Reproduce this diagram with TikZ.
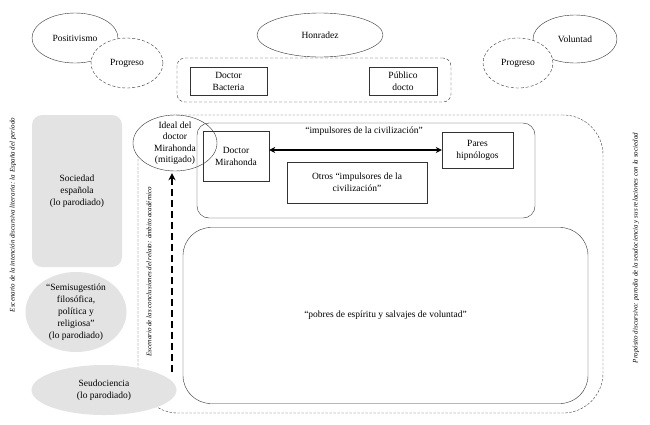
\documentclass[tikz,border=0pt]{standalone}
\usepackage{fontspec}
\setmainfont{Liberation Serif}
\usetikzlibrary{shapes.geometric,arrows.meta}
\begin{document}
\begin{tikzpicture}[x=1pt,y=-1pt, font=\fontsize{9.5}{12}\selectfont,
 ell/.style={ellipse, draw=black!80, inner sep=0pt, align=center},
 dell/.style={ell, dash pattern=on 3pt off 2pt, fill=white},
 bx/.style={rectangle, draw=black!80, inner sep=0pt, align=center},
 grayfill/.style={fill=black!11, draw=none, inner sep=0pt, align=center},
 side/.style={font=\fontsize{7}{8}\selectfont\itshape, rotate=90, inner sep=0pt},
 txt/.style={align=center, inner sep=0pt},
 ]
\useasboundingbox[fill=white] (0,0) rectangle (650,424);

% top ellipses
\node[ell, minimum width=86, minimum height=50] (pos) at (75,38) {Positivismo};
\node[dell, minimum width=72, minimum height=50] (prog1) at (127,63) {Progreso};
\node[ell, minimum width=126, minimum height=44] (hon) at (320,35) {Honradez};
\node[draw=black!80, dash pattern=on 3pt off 2pt, rounded corners=8, minimum width=274, minimum height=44, inner sep=0pt] (grp) at (314,80) {};
\node[bx, minimum width=77, minimum height=28] (bact) at (228.5,81) {Doctor\\Bacteria};
\node[bx, minimum width=68, minimum height=28] (pub) at (403,81) {Público\\docto};
\node[ell, minimum width=84, minimum height=48] (vol) at (575,39) {Voluntad};
\node[dell, minimum width=70, minimum height=50] (prog2) at (518,63) {Progreso};

% outer dashed region
\node[draw=black!75, dash pattern=on 2.5pt off 1.5pt, rounded corners=40, minimum width=465, minimum height=298, inner sep=0pt] (outer) at (370.5,264) {};

% grey shapes
\node[grayfill, rounded corners=10, minimum width=90, minimum height=152] (soc) at (77,191) {};
\node[txt] at (soc) {Sociedad\\española\\(lo parodiado)};
\node[grayfill, ellipse, minimum width=101, minimum height=80] (semi) at (76,312) {};
\node[txt] at (semi) {“Semisugestión\\filosófica,\\política y\\religiosa”\\(lo parodiado)};
\node[grayfill, ellipse, minimum width=145, minimum height=50] (seu) at (104,390) {};
\node[txt] at (seu) {Seudociencia\\(lo parodiado)};

% ideal
\node[ell, fill=white, minimum width=84, minimum height=56] (ideal) at (175,143) {};
\node[txt, font=\fontsize{9.5}{11.5}\selectfont] at (ideal) {Ideal del\\doctor\\Mirahonda\\(mitigado)};

% impulsores
\node[draw=black!80, rounded corners=12, minimum width=338, minimum height=95, inner sep=0pt] (imp) at (366,170.5) {};
\node[txt] (implab) at (364,131) {“impulsores de la civilización”};
\node[bx, minimum width=66, minimum height=50] (dm) at (236,156) {Doctor\\Mirahonda};
\node[bx, minimum width=71, minimum height=36] (par) at (477.5,150) {Pares\\hipnólogos};
\node[bx, minimum width=140, minimum height=41] (otros) at (357,182.5) {Otros “impulsores de la\\civilización”};

% pobres
\node[draw=black!80, rounded corners=28, minimum width=405, minimum height=176, inner sep=0pt] (pob) at (385.5,315.5) {};
\node[txt] at (pob) {“pobres de espíritu y salvajes de voluntad”};

% arrows
\draw[line width=1.4pt, {Stealth[length=6pt,width=6pt]}-{Stealth[length=6pt,width=6pt]}] (dm.east |- par.west) -- (par.west);
\coordinate (astart) at (172,372);
\draw[line width=2pt, dash pattern=on 7pt off 4pt, -{Stealth[length=7pt,width=7pt]}, shorten >=2pt] (astart) -- (astart |- ideal.south);

% side texts
\node[side] (s1) at (13,215) {Escenario de la intención discursiva literaria: la España del período};
\node[side] (s2) at (149,272) {Escenario de las conclusiones del relato: ámbito académico};
\node[side] (s3) at (636,248) {Propósito discursivo: parodia de la seudociencia y sus relaciones con la sociedad};
\end{tikzpicture}
\end{document}
